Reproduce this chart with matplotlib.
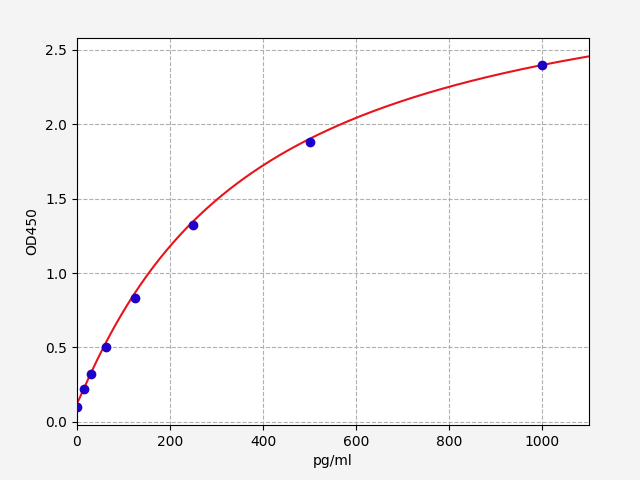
import numpy as np
import matplotlib
matplotlib.use("Agg")
import matplotlib.pyplot as plt

conc = [0, 15.6, 31.25, 62.5, 125, 250, 500, 1000]
od = [0.1, 0.22, 0.32, 0.5, 0.83, 1.32, 1.88, 2.4]
# 4PL fit parameters (read to match the curve)
A, B, C, D = 0.12, 1.05, 370.0, 3.2

fig = plt.figure(figsize=(6.4, 4.8), dpi=100, facecolor="#f4f4f4")
fig.subplots_adjust(left=0.12, right=0.92, top=0.921, bottom=0.115)
ax = fig.add_subplot(111)
x = np.linspace(0, 1100, 400)
y = D + (A - D) / (1 + (x / C) ** B)
ax.plot(x, y, color="#e8141b", lw=1.5)
ax.scatter(conc, od, color="#1f00c8", s=36, zorder=3)
ax.set_xlim(0, 1100)
ax.set_ylim(-0.02, 2.58)
ax.set_xlabel("pg/ml")
ax.set_ylabel("OD450")
ax.grid(True, ls="--", color="#b0b0b0")
fig.savefig("out.png", facecolor=fig.get_facecolor())
